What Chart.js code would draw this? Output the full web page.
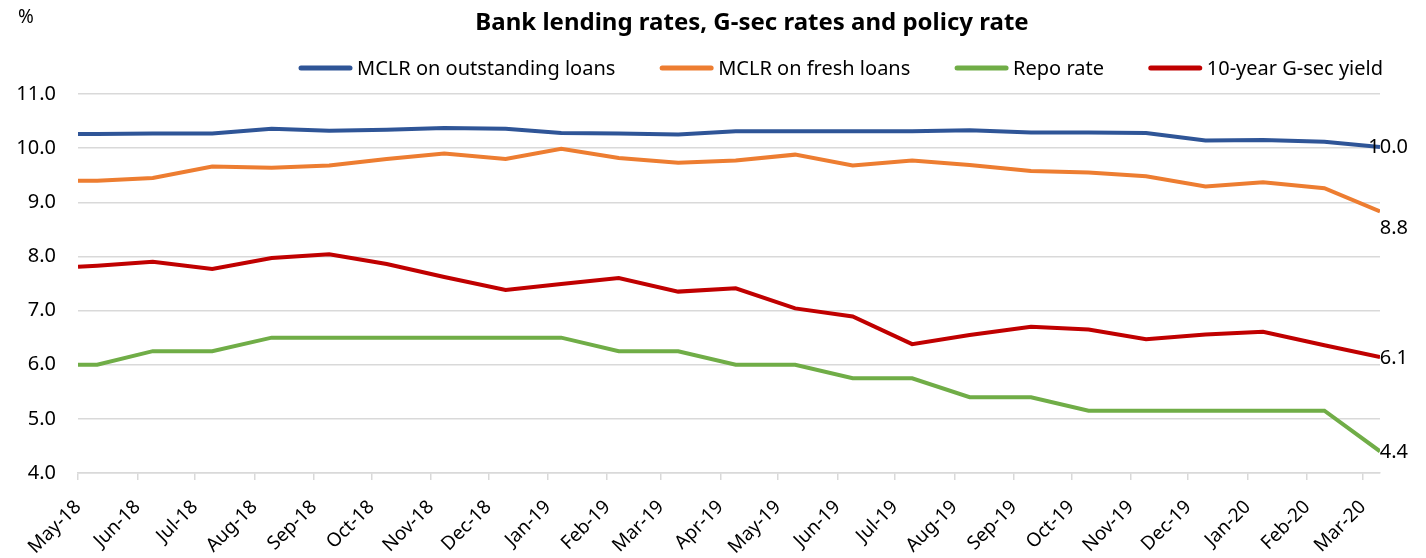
<!DOCTYPE html>
<html>
<head>
<meta charset="utf-8">
<script src="https://cdn.jsdelivr.net/npm/chart.js@4.4.0/dist/chart.umd.min.js"></script>
<style>
  html, body { margin: 0; padding: 0; background: #fff; }
  #wrap { position: relative; width: 1426px; height: 558px; }
</style>
</head>
<body>
<div id="wrap"><canvas id="rateChart"></canvas></div>
<script>
// observation dates, one per data point
const obsDates = [
  '2018-05-01', '2018-05-11', '2018-06-09', '2018-07-10', '2018-08-10', '2018-09-09',
  '2018-10-09', '2018-11-08', '2018-12-10', '2019-01-08', '2019-02-07', '2019-03-10',
  '2019-04-09', '2019-05-10', '2019-06-09', '2019-07-10', '2019-08-09', '2019-09-10',
  '2019-10-10', '2019-11-09', '2019-12-10', '2020-01-09', '2020-02-10', '2020-03-10'
];

const mclrOutstanding = [10.26, 10.26, 10.27, 10.27, 10.36, 10.32, 10.34, 10.37, 10.36, 10.28, 10.27, 10.25,
  10.31, 10.31, 10.31, 10.31, 10.33, 10.29, 10.29, 10.28, 10.14, 10.15, 10.12, 10.02];
const mclrFresh = [9.40, 9.40, 9.45, 9.66, 9.64, 9.68, 9.80, 9.90, 9.80, 9.99, 9.82, 9.73,
  9.77, 9.88, 9.68, 9.77, 9.69, 9.58, 9.55, 9.48, 9.29, 9.37, 9.26, 8.83];
const repoRate = [6.0, 6.0, 6.25, 6.25, 6.5, 6.5, 6.5, 6.5, 6.5, 6.5, 6.25, 6.25,
  6.0, 6.0, 5.75, 5.75, 5.4, 5.4, 5.15, 5.15, 5.15, 5.15, 5.15, 4.4];
const gsecYield = [7.81, 7.83, 7.90, 7.77, 7.97, 8.04, 7.86, 7.62, 7.38, 7.49, 7.60, 7.35,
  7.41, 7.04, 6.89, 6.38, 6.55, 6.70, 6.65, 6.47, 6.56, 6.61, 6.36, 6.14];

const monthLabels = ['May-18', 'Jun-18', 'Jul-18', 'Aug-18', 'Sep-18', 'Oct-18', 'Nov-18', 'Dec-18',
  'Jan-19', 'Feb-19', 'Mar-19', 'Apr-19', 'May-19', 'Jun-19', 'Jul-19', 'Aug-19', 'Sep-19',
  'Oct-19', 'Nov-19', 'Dec-19', 'Jan-20', 'Feb-20', 'Mar-20'];

const yMin = 4, yMax = 11, yStep = 1;

const seriesNames = ['MCLR on outstanding loans', 'MCLR on fresh loans', 'Repo rate', '10-year G-sec yield'];
const seriesColors = ['#2F5597', '#ED7D31', '#70AD47', '#C00000'];

// days since first observation
const DAY = 86400000;
const t0 = Date.parse(obsDates[0]);
const dayOf = ms => (ms - t0) / DAY;
const monthNames = ['Jan','Feb','Mar','Apr','May','Jun','Jul','Aug','Sep','Oct','Nov','Dec'];
const monthTickDays = monthLabels.map(l => {
  const [m, y] = l.split('-');
  return dayOf(Date.UTC(2000 + Number(y), monthNames.indexOf(m), 1));
});
const obsDays = obsDates.map(d => dayOf(Date.parse(d)));

const toPoints = vals => vals.map((v, i) => ({ x: obsDays[i], y: v }));
const allSeries = [mclrOutstanding, mclrFresh, repoRate, gsecYield];

const FONT = '"Noto Sans", "Open Sans", sans-serif';

// title, % unit, legend and end-of-line value labels
const decorations = {
  id: 'decorations',
  afterDraw(chart) {
    const ctx = chart.ctx;
    ctx.save();
    ctx.fillStyle = '#000';
    ctx.textBaseline = 'middle';

    ctx.font = 'bold 24px ' + FONT;
    ctx.textAlign = 'center';
    ctx.fillText('Bank lending rates, G-sec rates and policy rate', 752, 23);

    ctx.font = '19px ' + FONT;
    ctx.fillText('%', 26, 18);

    // legend
    ctx.font = '20px ' + FONT;
    ctx.textAlign = 'left';
    const sampleW = 53, textGap = 5, legendLeft = 299, legendRight = 1383, legendY = 68;
    const widths = seriesNames.map(n => ctx.measureText(n).width);
    const used = widths.reduce((a, w) => a + sampleW + textGap + w, 0);
    const gap = (legendRight - legendLeft - used) / (seriesNames.length - 1);
    let x = legendLeft;
    seriesNames.forEach((n, i) => {
      ctx.strokeStyle = seriesColors[i];
      ctx.lineWidth = 5;
      ctx.lineCap = 'round';
      ctx.beginPath();
      ctx.moveTo(x + 2, legendY);
      ctx.lineTo(x + sampleW - 2, legendY);
      ctx.stroke();
      ctx.fillText(n, x + sampleW + textGap, legendY + 1);
      x += sampleW + textGap + widths[i] + gap;
    });

    // last-value labels
    const dy = [0, 17, 1, 1];
    ctx.font = '20px ' + FONT;
    ctx.textAlign = 'right';
    chart.data.datasets.forEach((ds, i) => {
      const meta = chart.getDatasetMeta(i);
      const pt = meta.data[meta.data.length - 1];
      const v = ds.data[ds.data.length - 1].y;
      ctx.fillText(v.toFixed(1), pt.x + 28, pt.y + dy[i]);
    });
    ctx.restore();
  }
};

new Chart(document.getElementById('rateChart'), {
  type: 'line',
  data: {
    datasets: allSeries.map((vals, i) => ({
      label: seriesNames[i],
      data: toPoints(vals),
      borderColor: seriesColors[i],
      backgroundColor: seriesColors[i],
      borderWidth: 4,
      pointRadius: 0,
      tension: 0,
      fill: false
    }))
  },
  options: {
    responsive: true,
    maintainAspectRatio: false,
    animation: false,
    layout: { padding: { top: 94, right: 46, bottom: 0, left: 0 } },
    plugins: {
      legend: { display: false },
      title: { display: false },
      tooltip: { enabled: false }
    },
    scales: {
      x: {
        type: 'linear',
        min: obsDays[0],
        max: obsDays[obsDays.length - 1],
        afterBuildTicks(scale) {
          scale.ticks = monthTickDays.map(v => ({ value: v }));
        },
        afterFit(scale) { scale.height = 85; },
        ticks: {
          autoSkip: false,
          minRotation: 45,
          maxRotation: 45,
          padding: 16,
          color: '#000',
          font: { family: FONT, size: 19 },
          callback: (value, index) => monthLabels[index]
        },
        grid: {
          drawOnChartArea: false,
          drawTicks: true,
          tickLength: 7,
          color: '#d9d9d9',
          lineWidth: 1.5
        },
        border: { display: true, color: '#d9d9d9', width: 1.5 }
      },
      y: {
        min: yMin,
        max: yMax,
        afterFit(scale) { scale.width = 78; },
        ticks: {
          stepSize: yStep,
          padding: 22,
          color: '#000',
          font: { family: FONT, size: 20 },
          callback: v => v.toFixed(1)
        },
        grid: { color: '#d9d9d9', lineWidth: 1.5, drawTicks: false },
        border: { display: false }
      }
    }
  },
  plugins: [decorations]
});
</script>
</body>
</html>
